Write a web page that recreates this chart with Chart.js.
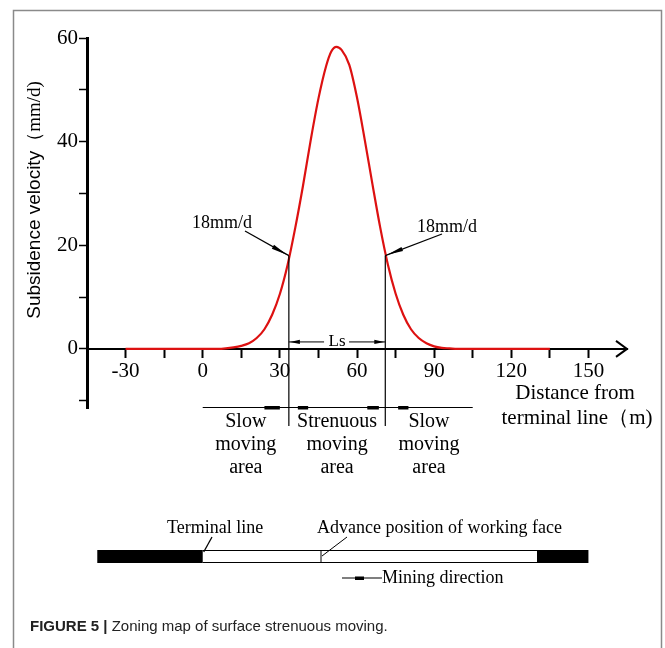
<!DOCTYPE html>
<html>
<head>
<meta charset="utf-8">
<script src="https://cdn.jsdelivr.net/npm/chart.js@4.4.1/dist/chart.umd.min.js"></script>
<style>
html, body { margin: 0; padding: 0; background: #fff; }
canvas { display: block; }
</style>
</head>
<body>
<canvas id="chart" width="665" height="648" style="width:665px;height:648px"></canvas>
<script>
// distance from terminal line (m)
const distance = [-30, -15, 0, 6, 9, 12, 15, 18, 21, 24, 27, 30, 33, 36, 39, 42, 45, 48, 50, 52, 54,
  57, 60, 63, 66, 69, 72, 75, 78, 81, 84, 87, 90, 93, 96, 99, 105, 120, 135];
// subsidence velocity (mm/d)
const velocity = [0, 0, 0, 0, 0.1, 0.3, 0.6, 1.1, 2.1, 3.8, 6.6, 10.6, 16.2, 23.4, 31.5, 40.3, 48.3, 54.6, 57.4, 58.3, 57.7,
  54.8, 48.5, 40.4, 31.8, 23.5, 16.3, 10.7, 6.6, 3.8, 2.1, 1.1, 0.5, 0.2, 0.1, 0, 0, 0, 0];

const xTickLabels = [-30, 0, 30, 60, 90, 120, 150];
const yTickLabels = [0, 20, 40, 60];

// zones: slow / strenuous / slow, split where velocity = 18 mm/d
const threshold = 18;
const zoneEdges = [0, 33.5, 71, 105];
const zoneNames = [["Slow", "moving", "area"], ["Strenuous", "moving", "area"], ["Slow", "moving", "area"]];
const zoneMarks = [[24, 30], [37, 41], [64, 68.5], [76, 80]];

// schematic of the working face (same x scale)
const barStart = -41, terminalLine = 0, facePos = 46, goafEnd = 130, barEnd = 150;

const serif = '"Liberation Serif", "Times New Roman", serif';
const sans = '"Liberation Sans", Arial, sans-serif';

function arrowHead(ctx, x1, y1, x2, y2, len, half) {
  const a = Math.atan2(y2 - y1, x2 - x1);
  const bx = x2 - len * Math.cos(a), by = y2 - len * Math.sin(a);
  ctx.beginPath();
  ctx.moveTo(x2, y2);
  ctx.lineTo(bx + half * Math.sin(a), by - half * Math.cos(a));
  ctx.lineTo(bx - half * Math.sin(a), by + half * Math.cos(a));
  ctx.closePath();
  ctx.fill();
}

function line(ctx, x1, y1, x2, y2, w) {
  ctx.lineWidth = w;
  ctx.beginPath();
  ctx.moveTo(x1, y1);
  ctx.lineTo(x2, y2);
  ctx.stroke();
}

const extras = {
  id: "extras",
  beforeDraw(chart) {
    const ctx = chart.ctx;
    ctx.save();
    ctx.fillStyle = "#fff";
    ctx.fillRect(0, 0, chart.width, chart.height);
    ctx.strokeStyle = "#8a8a8a";
    ctx.lineWidth = 1.5;
    ctx.beginPath();
    ctx.moveTo(13.5, 700);
    ctx.lineTo(13.5, 10.5);
    ctx.lineTo(661.5, 10.5);
    ctx.lineTo(661.5, 700);
    ctx.stroke();
    ctx.restore();
  },
  afterDraw(chart) {
    const ctx = chart.ctx;
    const xs = chart.scales.x, ys = chart.scales.y;
    const X = v => xs.getPixelForValue(v);
    const Y = v => ys.getPixelForValue(v);
    ctx.save();
    ctx.strokeStyle = "#000";
    ctx.fillStyle = "#000";

    // arrow at end of x axis
    const ax = X(xs.max), ay = Y(0);
    ctx.lineWidth = 2;
    ctx.beginPath();
    ctx.moveTo(ax - 11, ay - 8);
    ctx.lineTo(ax, ay);
    ctx.lineTo(ax - 11, ay + 8);
    ctx.stroke();

    // vertical boundaries of the strenuous zone
    [zoneEdges[1], zoneEdges[2]].forEach(v => line(ctx, X(v), Y(threshold), X(v), 426, 1.2));

    // Ls arrow
    const lsY = Y(0) - 7;
    const l1 = X(zoneEdges[1]), l2 = X(zoneEdges[2]), lm = (l1 + l2) / 2;
    line(ctx, l1, lsY, lm - 13, lsY, 1);
    line(ctx, lm + 12, lsY, l2, lsY, 1);
    arrowHead(ctx, l1 + 12, lsY, l1 + 1, lsY, 10, 2.2);
    arrowHead(ctx, l2 - 12, lsY, l2 - 1, lsY, 10, 2.2);
    ctx.font = "17px " + serif;
    ctx.textAlign = "center";
    ctx.textBaseline = "middle";
    ctx.fillText("Ls", lm, lsY);

    // 18mm/d labels
    ctx.font = "18px " + serif;
    ctx.fillText(threshold + "mm/d", 222, 223);
    ctx.fillText(threshold + "mm/d", 447, 227);
    const p1x = X(zoneEdges[1]), p2x = X(zoneEdges[2]), py = Y(threshold);
    line(ctx, 245, 231, p1x, py, 1.2);
    arrowHead(ctx, 245, 231, p1x - 2, py - 1, 16, 2.2);
    line(ctx, 442, 234, p2x, py, 1.2);
    arrowHead(ctx, 442, 234, p2x + 2, py - 1, 16, 2.2);

    // zone divider line and labels
    const zy = 407.5;
    line(ctx, X(zoneEdges[0]), zy, X(zoneEdges[3]), zy, 1.2);
    zoneMarks.forEach(m => ctx.fillRect(X(m[0]), zy - 1.5, X(m[1]) - X(m[0]), 3.5));
    ctx.font = "20px " + serif;
    ctx.textBaseline = "middle";
    for (let i = 0; i < zoneNames.length; i++) {
      const cx = X((zoneEdges[i] + zoneEdges[i + 1]) / 2);
      zoneNames[i].forEach((t, k) => ctx.fillText(t, cx, 422 + k * 23));
    }

    // x axis title
    ctx.font = "21px " + serif;
    ctx.fillText("Distance from", 575, 393);
    ctx.fillText("terminal line（m)", 577, 418);

    // y axis title
    ctx.save();
    ctx.translate(35, 200);
    ctx.rotate(-Math.PI / 2);
    ctx.font = "19px " + sans;
    const t1 = "Subsidence velocity";
    const w1 = ctx.measureText(t1).width;
    ctx.font = "19px " + serif;
    const t2 = "（mm/d)";
    const w2 = ctx.measureText(t2).width;
    const sx = -(w1 + w2) / 2;
    ctx.textAlign = "left";
    ctx.font = "19px " + sans;
    ctx.fillText(t1, sx, 0);
    ctx.font = "19px " + serif;
    ctx.fillText(t2, sx + w1, 0);
    ctx.restore();

    // working face schematic
    const by1 = 550, by2 = 563;
    ctx.fillRect(X(barStart), by1, X(terminalLine) - X(barStart), by2 - by1);
    ctx.fillRect(X(goafEnd), by1, X(barEnd) - X(goafEnd), by2 - by1);
    line(ctx, X(terminalLine), by1 + 0.5, X(goafEnd), by1 + 0.5, 1);
    line(ctx, X(terminalLine), by2 - 0.5, X(goafEnd), by2 - 0.5, 1);
    line(ctx, X(facePos), by1, X(facePos), by2, 1);
    ctx.font = "18px " + serif;
    ctx.textAlign = "left";
    ctx.fillText("Terminal line", 167, 528);
    ctx.fillText("Advance position of working face", 317, 528);
    ctx.fillText("Mining direction", 382, 578);
    line(ctx, 212, 537, X(terminalLine) + 1, by1 + 2, 1.3);
    line(ctx, 347, 537, X(facePos) + 1, by1 + 6, 1);
    line(ctx, 342, 578, 382, 578, 1.2);
    ctx.fillRect(355, 576.5, 9, 3.5);

    // caption
    ctx.fillStyle = "#222";
    ctx.textBaseline = "alphabetic";
    ctx.font = "bold 15px " + sans;
    const cap1 = "FIGURE 5 | ";
    ctx.fillText(cap1, 30, 631);
    const cw = ctx.measureText(cap1).width;
    ctx.font = "15px " + sans;
    ctx.fillText("Zoning map of surface strenuous moving.", 30 + cw, 631);
    ctx.restore();
  }
};

new Chart(document.getElementById("chart"), {
  type: "line",
  data: {
    datasets: [{
      data: distance.map((x, i) => ({ x: x, y: velocity[i] })),
      borderColor: "#dd1111",
      borderWidth: 2.2,
      pointRadius: 0,
      cubicInterpolationMode: "monotone",
      fill: false
    }]
  },
  options: {
    responsive: false,
    animation: false,
    devicePixelRatio: 1,
    layout: { padding: { left: 17, top: 38, right: 38, bottom: 240 } },
    plugins: { legend: { display: false }, tooltip: { enabled: false } },
    scales: {
      x: {
        type: "linear",
        position: { y: 0 },
        min: -45,
        max: 165,
        ticks: {
          stepSize: 15,
          includeBounds: false,
          autoSkip: false,
          maxRotation: 0,
          padding: 2,
          color: "#000",
          font: { family: serif, size: 21 },
          callback: v => xTickLabels.includes(v) ? String(v) : ""
        },
        grid: {
          drawOnChartArea: false,
          tickLength: 8,
          tickWidth: 2,
          tickColor: c => (c.tick && c.tick.value >= -30 && c.tick.value <= 150) ? "#000" : "rgba(0,0,0,0)"
        },
        border: { color: "#000", width: 2 }
      },
      y: {
        min: -11.4,
        max: 60,
        afterFit: s => { s.width = 70; },
        ticks: {
          stepSize: 10,
          includeBounds: false,
          padding: 1,
          color: "#000",
          font: { family: serif, size: 21 },
          callback: v => yTickLabels.includes(v) ? String(v) : ""
        },
        grid: {
          drawOnChartArea: false,
          tickLength: 8,
          tickWidth: 1.5,
          tickColor: "#000"
        },
        border: { color: "#000", width: 3 }
      }
    }
  },
  plugins: [extras]
});
</script>
</body>
</html>
